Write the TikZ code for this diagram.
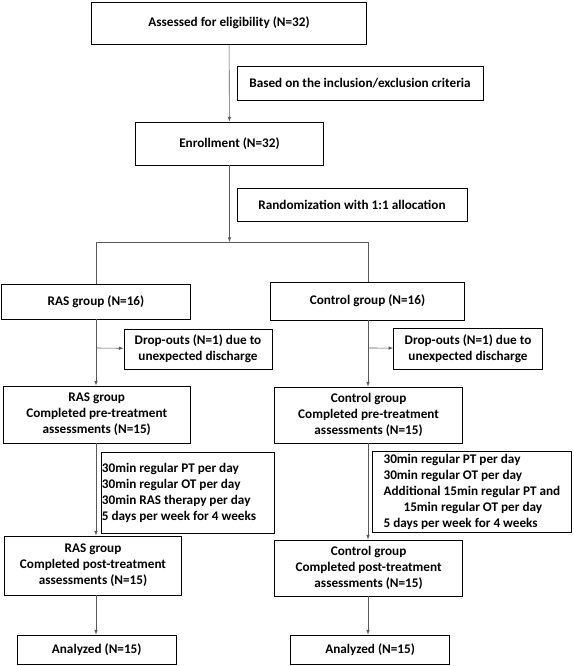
\documentclass[tikz,border=0pt]{standalone}
\usepackage{fontspec}
\setmainfont{Carlito}
\usetikzlibrary{positioning,arrows}

\begin{document}
\begin{tikzpicture}[x=1pt,y=-1pt,>=latex,
    box/.style={draw,line width=0.9pt,rectangle,inner sep=0pt,align=center,font=\fontsize{13.2}{16}\selectfont\bfseries},
    lst/.style={box,align=left},
    link/.style={line width=0.6pt,black!65}]
    \useasboundingbox (0,0) rectangle (573,666);

    % top of the chart
    \node[box,minimum width=275,minimum height=42] (asd) at (229,23) {Assessed for eligibility (N=32)};
    \node[box,minimum width=246,minimum height=34] (crit) at (360,83) {Based on the inclusion/exclusion criteria};
    \node[box,minimum width=188.6,minimum height=43] (enr) at (229.5,143.5) {Enrollment (N=32)};
    \node[box,minimum width=230,minimum height=33] (rand) at (352,204.5) {Randomization with 1:1 allocation};
    \coordinate (split) at (229.5,242);
    \coordinate (splitL) at (96,242);
    \coordinate (splitR) at (368,242);

    % left arm
    \node[box,minimum width=188.6,minimum height=35] (rasg) at (96,301.5) {RAS group (N=16)};
    \node[box,minimum width=148,minimum height=40] (dropL) at (198,349) {Drop-outs (N=1) due to\\unexpected discharge};
    \node[box,minimum width=187.5,minimum height=57] (preL) at (96.7,414.5) {RAS group\\Completed pre-treatment\\assessments (N=15)};
    \node[lst,minimum width=172.5,minimum height=81] (trtL) at (188,492.5) {30min regular PT per day\\30min regular OT per day\\30min RAS therapy per day\\5 days per week for 4 weeks\hspace*{18pt}};
    \node[box,minimum width=177.3,minimum height=59] (postL) at (93,565.5) {RAS group\\Completed post-treatment\\assessments (N=15)};
    \node[box,minimum width=158.7,minimum height=29] (anaL) at (96.7,649.5) {Analyzed (N=15)};
    \coordinate (brL) at (96,348);

    % right arm
    \node[box,minimum width=194.8,minimum height=38] (ctlg) at (367.5,301) {Control group (N=16)};
    \node[box,minimum width=148.8,minimum height=41] (dropR) at (468,348.5) {Drop-outs (N=1) due to\\unexpected discharge};
    \node[box,minimum width=188.2,minimum height=56] (preR) at (368.6,415) {Control group\\Completed pre-treatment\\assessments (N=15)};
    \node[lst,minimum width=198.2,minimum height=81] (trtR) at (471.9,491.5) {30min regular PT per day\\30min regular OT per day\\Additional 15min regular PT and\hspace*{4pt}\\\hspace*{20pt}15min regular OT per day\\5 days per week for 4 weeks};
    \node[box,minimum width=188.2,minimum height=56] (postR) at (368.6,568) {Control group\\Completed post-treatment\\assessments (N=15)};
    \node[box,minimum width=159,minimum height=29] (anaR) at (370.1,649.5) {Analyzed (N=15)};
    \coordinate (brR) at (368,348);

    \draw[link,->] (asd) -- (enr);
    \draw[link,->] (enr) -- (split);
    \draw[link] (rasg.north -| splitL) -- (splitL) -- (splitR) -- (ctlg.north -| splitR);
    \draw[link,->] (rasg.south -| brL) -- (preL.north -| brL);
    \draw[link,->] (brL) -- (dropL);
    \draw[link,->] (ctlg.south -| brR) -- (preR.north -| brR);
    \draw[link,->] (brR) -- (dropR);
    \draw[link,->] (preL.south -| brL) -- (postL.north -| brL);
    \draw[link,->] (preR.south -| brR) -- (postR.north -| brR);
    \draw[link,->] (postL.south -| brL) -- (anaL.north -| brL);
    \draw[link,->] (postR.south -| brR) -- (anaR.north -| brR);
\end{tikzpicture}
\end{document}
